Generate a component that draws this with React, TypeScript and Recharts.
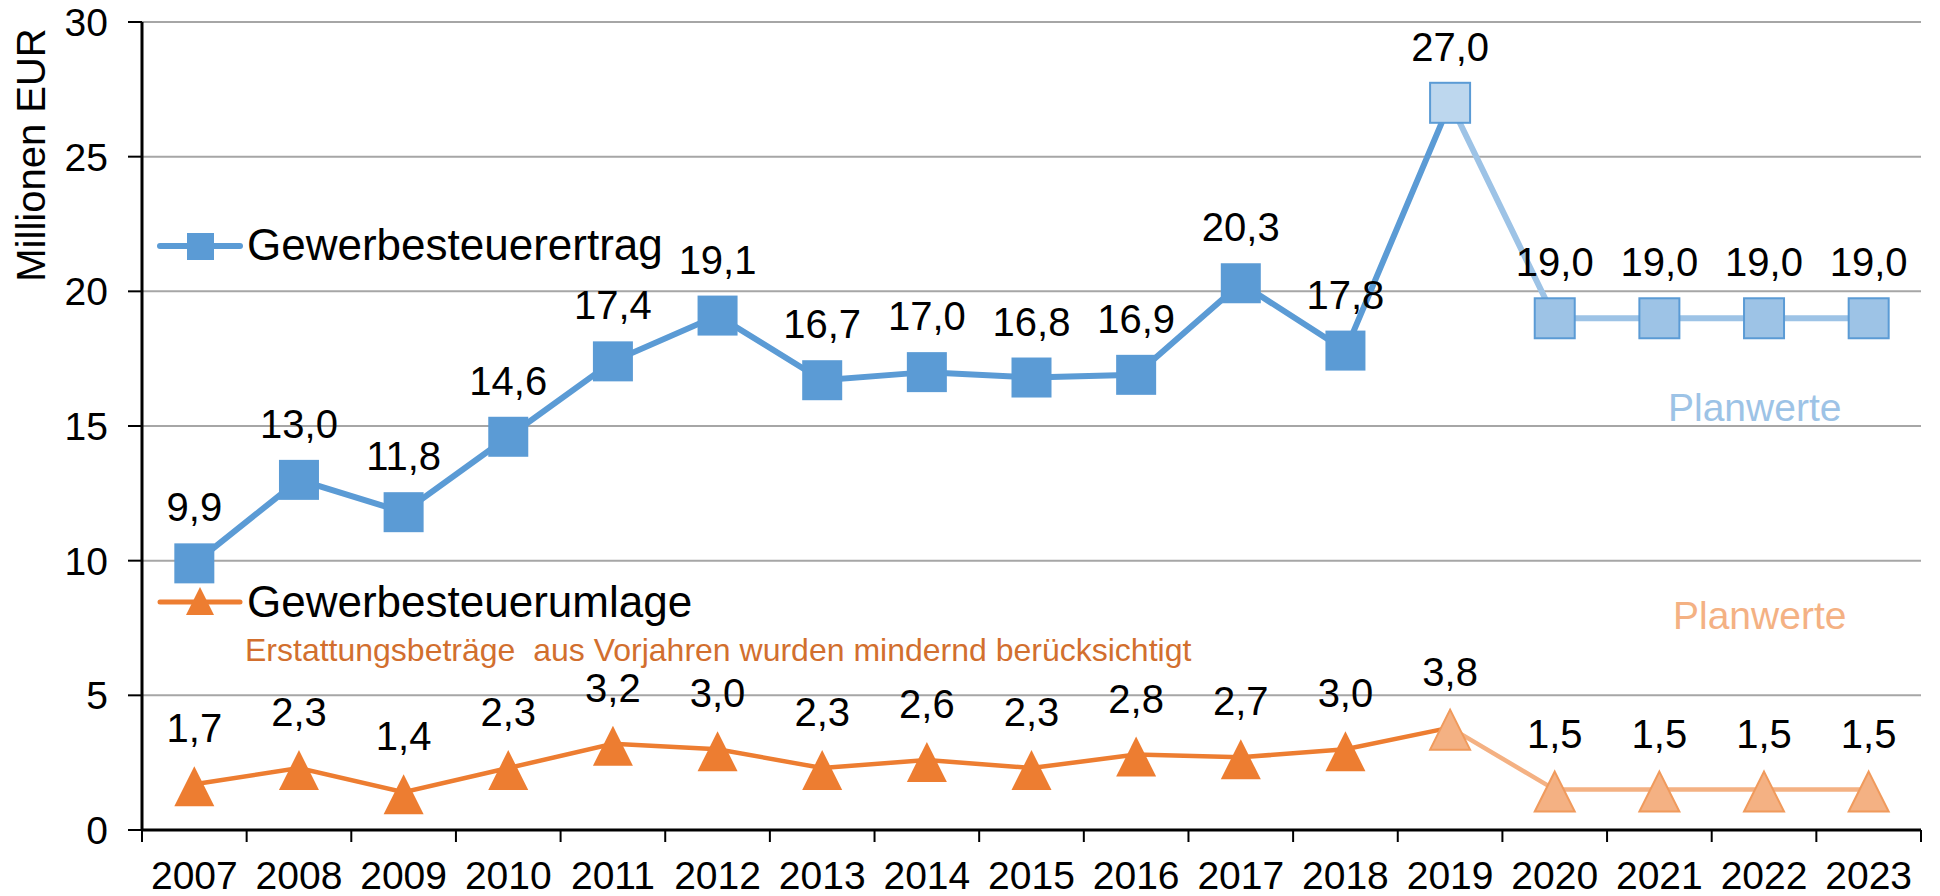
import React from "react"
import {
  CartesianGrid,
  Customized,
  Line,
  LineChart,
  XAxis,
  YAxis,
} from "recharts"

const years = [
  "2007", "2008", "2009", "2010", "2011", "2012", "2013", "2014", "2015",
  "2016", "2017", "2018", "2019", "2020", "2021", "2022", "2023",
]
const ertrag = [9.9, 13.0, 11.8, 14.6, 17.4, 19.1, 16.7, 17.0, 16.8, 16.9, 20.3, 17.8, 27.0, 19.0, 19.0, 19.0, 19.0]
const umlage = [1.7, 2.3, 1.4, 2.3, 3.2, 3.0, 2.3, 2.6, 2.3, 2.8, 2.7, 3.0, 3.8, 1.5, 1.5, 1.5, 1.5]
// index of 2019, first point drawn in the "Planwerte" style
const planStart = 12
const yTicks = [0, 5, 10, 15, 20, 25, 30]

const data = years.map((year, i) => ({
  year,
  ertragIst: i <= planStart ? ertrag[i] : null,
  ertragPlan: i >= planStart ? ertrag[i] : null,
  umlageIst: i <= planStart ? umlage[i] : null,
  umlagePlan: i >= planStart ? umlage[i] : null,
}))

const W = 1940
const H = 896
const LEFT = 142
const RIGHT = 19
const BAND = (W - LEFT - RIGHT) / years.length

const FONT = "'Liberation Sans', Arial, sans-serif"
const BLUE = "#5b9bd5"
const BLUE_PLAN = "#9dc3e6"
const BLUE_2019 = "#bdd7ee"
const ORANGE = "#ed7d31"
const ORANGE_PLAN = "#f4b183"

const fmt = (v: number) => v.toFixed(1).replace(".", ",")

function makeLabel(show: (i: number) => boolean) {
  return (props: any) => {
    const { x, y, value, index } = props
    if (value == null || !show(index)) return <g key={`l${index}`} />
    return (
      <text
        key={`l${index}`}
        x={x}
        y={y - 56}
        textAnchor="middle"
        dominantBaseline="central"
        fontSize={40}
        fontFamily={FONT}
        fill="#000"
      >
        {fmt(value)}
      </text>
    )
  }
}

function squareDot(fill: (i: number) => string, stroke?: string, hide?: (i: number) => boolean) {
  return (props: any) => {
    const { cx, cy, index } = props
    if (cy == null || (hide && hide(index))) return <g key={`d${index}`} />
    return (
      <rect
        key={`d${index}`}
        x={cx - 20}
        y={cy - 20}
        width={40}
        height={40}
        fill={fill(index)}
        stroke={stroke ?? "none"}
        strokeWidth={2}
      />
    )
  }
}

function triangleDot(fill: string, stroke?: string, hide?: (i: number) => boolean) {
  return (props: any) => {
    const { cx, cy, index } = props
    if (cy == null || (hide && hide(index))) return <g key={`d${index}`} />
    return (
      <polygon
        key={`d${index}`}
        points={`${cx},${cy - 18} ${cx + 20},${cy + 22} ${cx - 20},${cy + 22}`}
        fill={fill}
        stroke={stroke ?? "none"}
        strokeWidth={2}
      />
    )
  }
}

function YearTick(props: any) {
  const { x, y, payload, index } = props
  const left = x - BAND / 2
  return (
    <g>
      <line x1={left} x2={left} y1={y} y2={y + 12} stroke="#000" strokeWidth={2} />
      {index === years.length - 1 && (
        <line x1={x + BAND / 2} x2={x + BAND / 2} y1={y} y2={y + 12} stroke="#000" strokeWidth={2} />
      )}
      <text
        x={x}
        y={y + 45}
        textAnchor="middle"
        dominantBaseline="central"
        fontSize={39}
        fontFamily={FONT}
        fill="#000"
      >
        {payload.value}
      </text>
    </g>
  )
}

function Annotations() {
  return (
    <g fontFamily={FONT}>
      <text
        transform="translate(31,155) rotate(-90)"
        textAnchor="middle"
        dominantBaseline="central"
        fontSize={40}
        fill="#000"
      >
        Millionen EUR
      </text>

      <line x1={160} x2={240} y1={246} y2={246} stroke={BLUE} strokeWidth={6} strokeLinecap="round" />
      <rect x={187} y={233} width={27} height={27} fill={BLUE} />
      <text x={247} y={244} dominantBaseline="central" fontSize={44} fill="#000">
        Gewerbesteuerertrag
      </text>

      <line x1={160} x2={240} y1={602} y2={602} stroke={ORANGE} strokeWidth={5} strokeLinecap="round" />
      <polygon points="200,587 214,615 186,615" fill={ORANGE} />
      <text x={247} y={601} dominantBaseline="central" fontSize={44} fill="#000">
        Gewerbesteuerumlage
      </text>
      <text x={245} y={650} dominantBaseline="central" fontSize={32} fill="#d26f2e" style={{ whiteSpace: "pre" }}>
        {"Erstattungsbeträge  aus Vorjahren wurden mindernd berücksichtigt"}
      </text>

      <text x={1668} y={407} dominantBaseline="central" fontSize={39} fill={BLUE_PLAN}>
        Planwerte
      </text>
      <text x={1673} y={615} dominantBaseline="central" fontSize={39} fill={ORANGE_PLAN}>
        Planwerte
      </text>
    </g>
  )
}

export default function App() {
  return (
    <div style={{ position: "absolute", left: 0, top: 0, width: W, height: H, background: "#fff" }}>
      <LineChart width={W} height={H} data={data} margin={{ top: 22, right: RIGHT, bottom: 6, left: 42 }}>
        <CartesianGrid horizontal vertical={false} stroke="#a6a6a6" strokeWidth={2} />
        <XAxis
          dataKey="year"
          height={60}
          interval={0}
          padding={{ left: BAND / 2, right: BAND / 2 }}
          tickSize={0}
          tickMargin={0}
          tickLine={false}
          axisLine={{ stroke: "#000", strokeWidth: 3 }}
          tick={<YearTick />}
        />
        <YAxis
          width={100}
          domain={[0, 30]}
          ticks={yTicks}
          interval={0}
          tickSize={14}
          tickMargin={20}
          tickLine={{ stroke: "#000", strokeWidth: 2 }}
          axisLine={{ stroke: "#000", strokeWidth: 3 }}
          tick={{ fontSize: 39, fontFamily: FONT, fill: "#000" }}
        />
        <YAxis
          yAxisId="border"
          orientation="right"
          width={0}
          domain={[0, 30]}
          tick={false}
          tickLine={false}
          axisLine={{ stroke: "#a6a6a6", strokeWidth: 3 }}
        />

        <Line
          dataKey="umlageIst"
          stroke={ORANGE}
          strokeWidth={4.5}
          isAnimationActive={false}
          dot={triangleDot(ORANGE, undefined, (i) => i >= planStart)}
          label={makeLabel((i) => i < planStart)}
        />
        <Line
          dataKey="umlagePlan"
          stroke={ORANGE_PLAN}
          strokeWidth={4.5}
          isAnimationActive={false}
          dot={triangleDot(ORANGE_PLAN, "#f09a5c")}
          label={makeLabel((i) => i >= planStart)}
        />
        <Line
          dataKey="ertragIst"
          stroke={BLUE}
          strokeWidth={6}
          isAnimationActive={false}
          dot={squareDot(() => BLUE, undefined, (i) => i >= planStart)}
          label={makeLabel((i) => i < planStart)}
        />
        <Line
          dataKey="ertragPlan"
          stroke={BLUE_PLAN}
          strokeWidth={6}
          isAnimationActive={false}
          dot={squareDot((i) => (i === planStart ? BLUE_2019 : BLUE_PLAN), BLUE)}
          label={makeLabel((i) => i >= planStart)}
        />

        <Customized component={<Annotations />} />
      </LineChart>
    </div>
  )
}
